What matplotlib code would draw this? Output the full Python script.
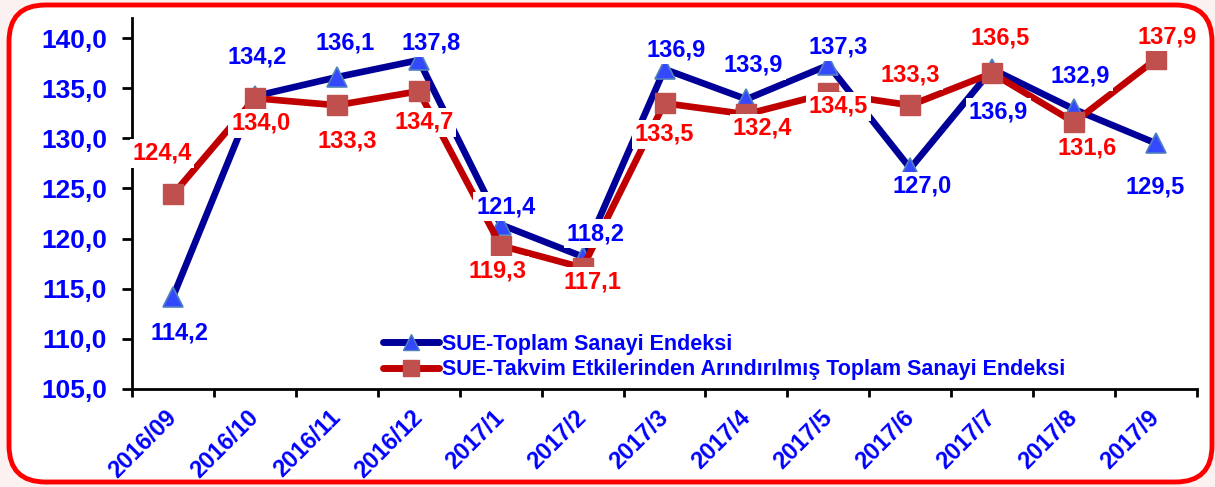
import matplotlib
matplotlib.use("Agg")
import matplotlib.pyplot as plt
from matplotlib.patches import FancyBboxPatch
from matplotlib.lines import Line2D

categories = ["2016/09", "2016/10", "2016/11", "2016/12", "2017/1", "2017/2", "2017/3",
              "2017/4", "2017/5", "2017/6", "2017/7", "2017/8", "2017/9"]
sue_total = [114.2, 134.2, 136.1, 137.8, 121.4, 118.2, 136.9, 133.9, 137.3, 127.0, 136.9, 132.9, 129.5]
sue_adjusted = [124.4, 134.0, 133.3, 134.7, 119.3, 117.1, 133.5, 132.4, 134.5, 133.3, 136.5, 131.6, 137.9]
yticks = [105, 110, 115, 120, 125, 130, 135, 140]
legend_labels = ["SUE-Toplam Sanayi Endeksi",
                 "SUE-Takvim Etkilerinden Arındırılmış Toplam Sanayi Endeksi"]

# label offsets (layout, in pixels: dx right, dy down)
total_off = [(7, 36), (2, -39), (8, -34), (12, -17), (5, -18), (13, -23), (12, -19),
             (7, -34), (10, -18), (12, 18), (6, 43), (6, -33), (-1, 44)]
adj_off = [(-11, -41), (6, 25), (10, 36), (5, 31), (-3, 25), (10, 14), (0, 31),
           (16, 14), (10, 13), (0, -30), (8, -35), (13, 26), (11, -22)]

plt.rcParams["font.family"] = ["Liberation Sans", "DejaVu Sans"]

W, H = 1215, 487
fig = plt.figure(figsize=(W / 100, H / 100), dpi=100)
fig.patch.set_facecolor("#fcf1f1")
border = FancyBboxPatch((9 / W, 5 / H), 1203 / W, 477 / H,
                        boxstyle="round,pad=0,rounding_size=0.03",
                        transform=fig.transFigure, facecolor="white",
                        edgecolor="#ff0000", linewidth=3.5, zorder=-10,
                        mutation_aspect=W / H)
fig.patches.append(border)

ax = fig.add_axes([132 / W, 1 - 389 / H, (1197 - 132) / W, (389 - 18) / H])
ax.set_facecolor("none")
x = list(range(len(categories)))

blue_line = "#000099"
red_line = "#c00000"
tri_face = "#3348ff"
tri_edge = "#4f81bd"
sq_face = "#c0504d"
ax.plot(x, sue_total, color=blue_line, lw=4.8, marker="^", markersize=15,
        markerfacecolor=tri_face, markeredgecolor=tri_edge, markeredgewidth=1.2,
        zorder=3, solid_joinstyle="round")
ax.plot(x, sue_adjusted, color=red_line, lw=4.8, marker="s", markersize=14.5,
        markerfacecolor=sq_face, markeredgecolor=sq_face,
        zorder=4, solid_joinstyle="round")

def fmt(v):
    return f"{v:.1f}".replace(".", ",")

px2pt = 72 / 100
for xi, v, (dx, dy) in zip(x, sue_total, total_off):
    ax.annotate(fmt(v), (xi, v), xytext=(dx * px2pt, -dy * px2pt), textcoords="offset points",
                ha="center", va="center", fontsize=17, fontweight="bold", color="#0000ff",
                bbox=dict(facecolor="white", edgecolor="none", pad=2), zorder=6)
for xi, v, (dx, dy) in zip(x, sue_adjusted, adj_off):
    ax.annotate(fmt(v), (xi, v), xytext=(dx * px2pt, -dy * px2pt), textcoords="offset points",
                ha="center", va="center", fontsize=17, fontweight="bold", color="#ff0000",
                bbox=dict(facecolor="white", edgecolor="none", pad=2), zorder=6)

ax.set_xlim(-0.5, len(categories) - 0.5)
ax.set_ylim(105, 142)
ax.set_yticks(yticks)
ax.set_yticklabels([fmt(v) for v in yticks], fontsize=19, fontweight="bold", color="#0000ff")
ax.set_xticks([i - 0.5 for i in range(len(categories) + 1)], minor=False)
ax.set_xticklabels([""] * (len(categories) + 1))
ax.set_xticks(x, minor=True)
ax.set_xticklabels(categories, minor=True, rotation=45, ha="right", va="center",
                   rotation_mode="anchor", fontsize=17, fontweight="bold", color="#0000ff")
ax.tick_params(axis="x", which="minor", length=0, pad=18)
ax.tick_params(axis="x", which="major", length=6, width=2, direction="out")
ax.tick_params(axis="y", length=7, width=2, direction="out", pad=11)
for s in ["top", "right"]:
    ax.spines[s].set_visible(False)
for s in ["left", "bottom"]:
    ax.spines[s].set_linewidth(2)

handles = [Line2D([], [], color=blue_line, lw=5, marker="^", markersize=11,
                  markerfacecolor=tri_face, markeredgecolor=tri_edge, solid_capstyle="round"),
           Line2D([], [], color=red_line, lw=5, marker="s", markersize=11,
                  markerfacecolor=sq_face, markeredgecolor=sq_face, solid_capstyle="round")]
leg = fig.legend(handles, legend_labels, loc="upper left",
                 bbox_to_anchor=(383 / W, 1 - 334 / H), bbox_transform=fig.transFigure,
                 frameon=False, handlelength=2.6, handletextpad=0.15, labelspacing=0.2,
                 borderpad=0, borderaxespad=0, prop={"weight": "bold", "size": 15.5})
for t in leg.get_texts():
    t.set_color("#0000ff")

fig.savefig("out.png", dpi=100, facecolor=fig.get_facecolor())
